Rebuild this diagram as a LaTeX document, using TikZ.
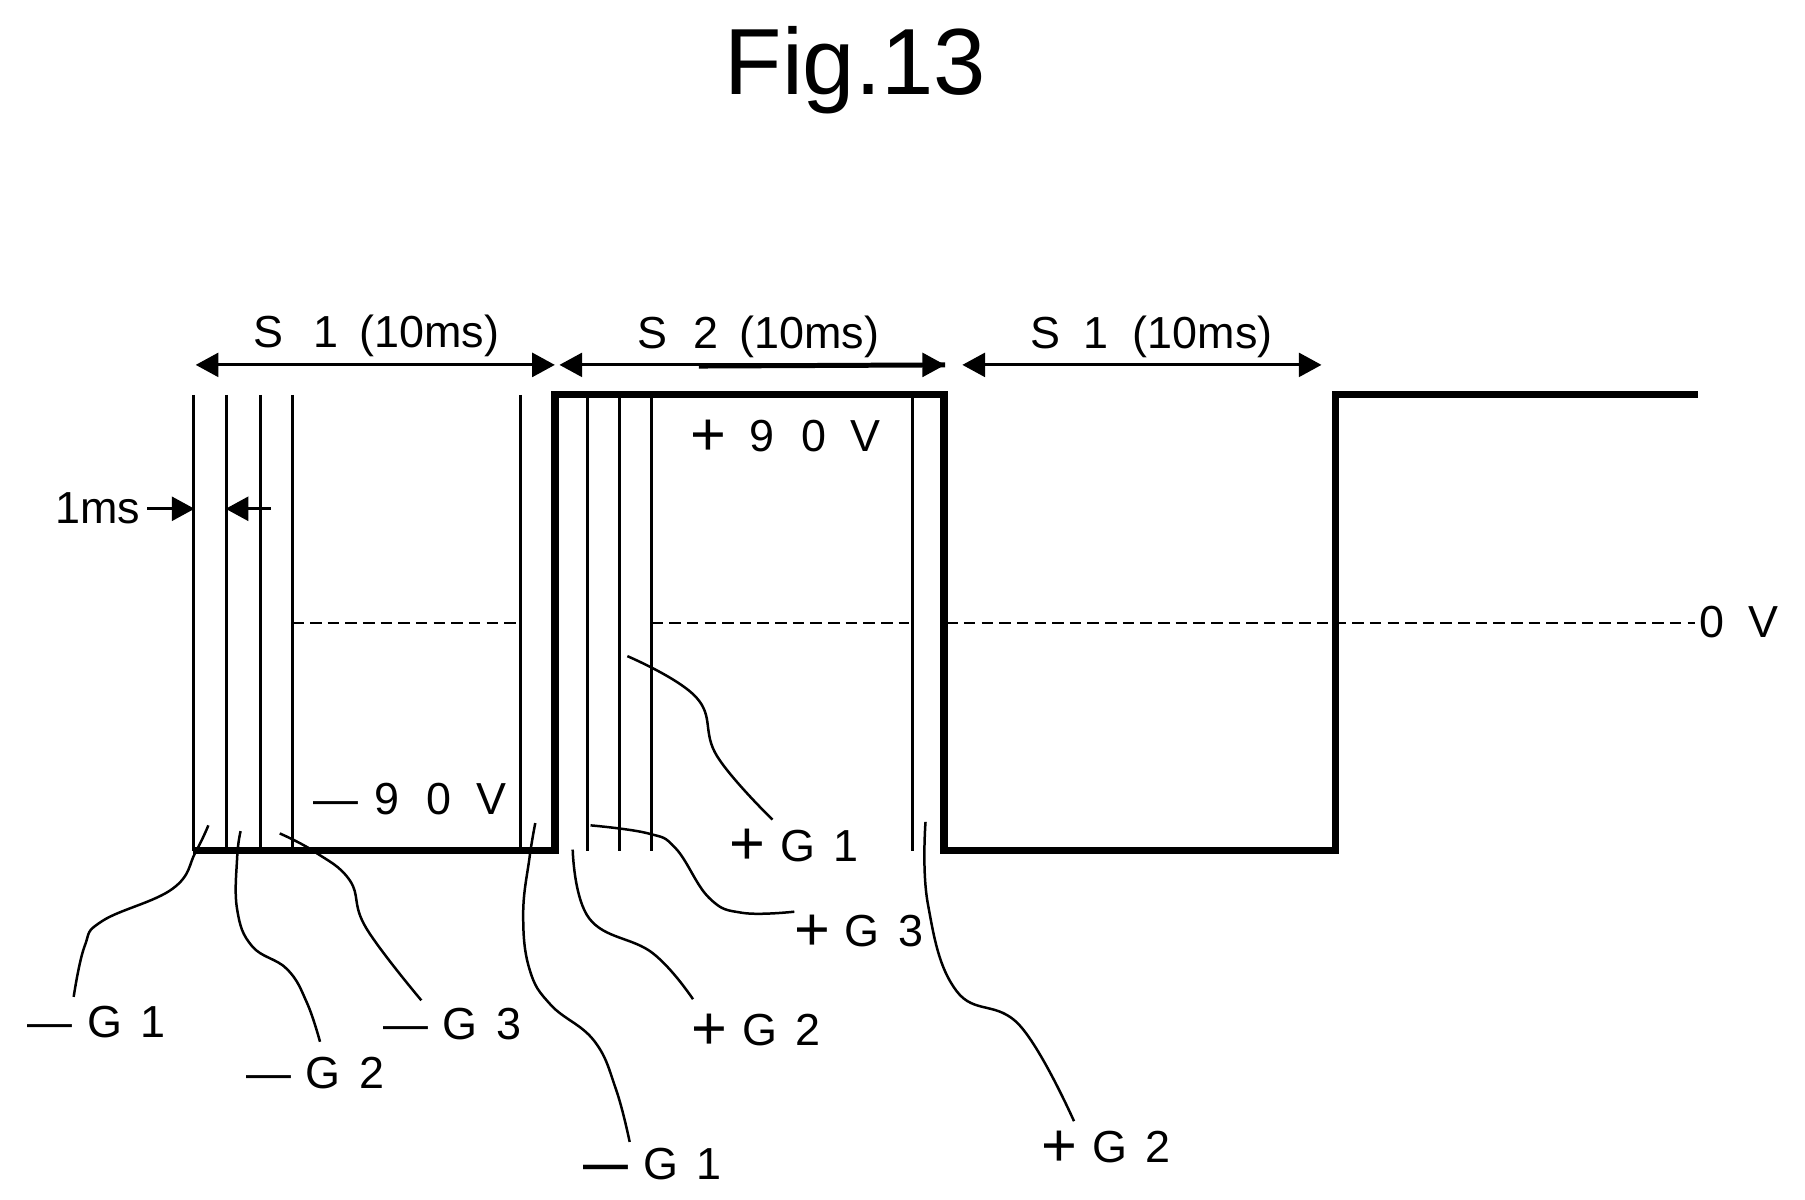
\documentclass[tikz,border=0pt]{standalone}
\usepackage{fontspec}
\setmainfont{Liberation Sans}
\usetikzlibrary{arrows.meta}
\newcommand\Pl{\raisebox{-1pt}{\fontsize{16}{16}\selectfont +}}
\newcommand\Mn{—}
\newcommand\Gl[2]{#1\hspace{3.8pt}G\hspace{4.8pt}#2}
\tikzset{
  x=0.3pt,y=-0.3pt,
  lbl/.style={anchor=base west,inner sep=0pt,outer sep=0pt,font=\fontsize{11.7}{14}\selectfont},
  title/.style={anchor=base,inner sep=0pt,outer sep=0pt,font=\fontsize{24.5}{28}\selectfont},
  signal/.style={line width=1.9pt,line join=miter,line cap=butt},
  gate/.style={line width=0.75pt},
  zero/.style={line width=0.5pt,dash pattern=on 3pt off 1.6pt},
  span/.style={line width=0.8pt,{Triangle[length=5.9pt,width=6.2pt]}-{Triangle[length=5.9pt,width=6.2pt]}},
  tick/.style={line width=0.8pt,-{Triangle[length=5.9pt,width=6.2pt]}},
  leader/.style={line width=0.65pt,line join=round}
}
\begin{document}
\begin{tikzpicture}
\useasboundingbox[fill=white] (0,0) rectangle (1568,1042.4);
% title
\node[title] (fig) at (743,82) {Fig.13};
% signal corners
\coordinate (b0) at (168,739);
\coordinate (b1) at (482,739);
\coordinate (t1) at (482,343);
\coordinate (t2) at (820,343);
\coordinate (b2) at (820,739);
\coordinate (b3) at (1160,739);
\coordinate (t3) at (1160,343);
\coordinate (t4) at (1475,343);
\draw[signal] (b0) -- (b1) -- (t1) -- (t2) -- (b2) -- (b3) -- (t3) -- (t4);
% gate lines
\foreach \x in {168,197,226,254,452,510,538,566,793}
  \draw[gate] (\x,343) -- (\x,739);
% zero level
\coordinate (za) at (254,541);
\coordinate (zb) at (450,541);
\coordinate (zc) at (566,541);
\coordinate (zd) at (790,541);
\coordinate (ze) at (822,541);
\coordinate (zf) at (1472,541);
\draw[zero] (za) -- (zb);
\draw[zero] (zc) -- (zd);
\draw[zero] (ze) -- (zf);
% span arrows
\coordinate (s1a) at (170,317);
\coordinate (s1b) at (482,317);
\coordinate (s2a) at (486,317);
\coordinate (s2b) at (821,317);
\coordinate (s2m) at (607,318);
\coordinate (s3a) at (836,317);
\coordinate (s3b) at (1148,317);
\draw[span] (s1a) -- (s1b);
\draw[span] (s2a) -- (s2b);
\draw[line width=1.3pt] (s2m) -- (s2b);
\draw[span] (s3a) -- (s3b);
% span labels
\node[lbl] (ls1) at (220,302) {S\hspace{8pt}1\hspace{5.4pt}(10ms)};
\node[lbl] (ls2) at (554,303) {S\hspace{6.6pt}2\hspace{5.6pt}(10ms)};
\node[lbl] (ls3) at (895,303) {S\hspace{6pt}1\hspace{6.4pt}(10ms)};
% 1ms
\node[lbl] (lms) at (48,455) {1ms};
\coordinate (ma) at (128,442);
\coordinate (mb) at (169,442);
\coordinate (mc) at (235,442);
\coordinate (md) at (196,442);
\draw[tick] (ma) -- (mb);
\draw[tick] (mc) -- (md);
% voltages
\node[lbl] (lm90) at (272,708) {\Mn\hspace{4.2pt}9\hspace{7.2pt}0\hspace{6.6pt}V};
\node[lbl] (lp90) at (600,392) {\Pl\hspace{6pt}9\hspace{7pt}0\hspace{6.4pt}V};
\node[lbl] (l0v) at (1476,554) {0\hspace{6.4pt}V};
% gate labels
\node[lbl] (g1) at (24,901) {\Gl{\Mn}{1}};
\node[lbl] (g2) at (214,946) {\Gl{\Mn}{2}};
\node[lbl] (g3) at (333,903) {\Gl{\Mn}{3}};
\node[lbl] (g4) at (507,1025) {\Gl{\textbf{—}}{1}};
\node[lbl] (p1) at (634,748) {\Gl{\Pl}{1}};
\node[lbl] (p3) at (690,822) {\Gl{\Pl}{3}};
\node[lbl] (p2) at (601,908) {\Gl{\Pl}{2}};
\node[lbl] (p4) at (905,1010) {\Gl{\Pl}{2}};
% leader ends
\coordinate (e1) at (64,866);
\coordinate (e2) at (278,905);
\coordinate (e3) at (366,869);
\coordinate (e4) at (547,992);
\coordinate (e5) at (671,712);
\coordinate (e6) at (690,792);
\coordinate (e7) at (602,868);
\coordinate (e8) at (933,974);
% leaders
\draw[leader] plot[smooth,tension=0.7] coordinates {(181,717) (170,740) (150,772) (89,800) (73.5,822) (e1)};
\draw[leader] plot[smooth,tension=0.7] coordinates {(209,722) (206,745) (206,790) (219,822) (249.5,842) (266.6,871) (e2)};
\draw[leader] plot[smooth,tension=0.7] coordinates {(243,724) (273.4,740) (304,765) (318,806) (e3)};
\draw[leader] plot[smooth,tension=0.7] coordinates {(465,715) (460,745) (454.5,794) (460,842) (478.5,873) (516,904) (535,946) (e4)};
\draw[leader] plot[smooth,tension=0.7] coordinates {(545,570) (605,606) (623,657) (e5)};
\draw[leader] plot[smooth,tension=0.7] coordinates {(513,717) (563,724) (587,737) (616,780) (645,793) (e6)};
\draw[leader] plot[smooth,tension=0.7] coordinates {(497.5,738) (512,798) (567,828) (e7)};
\draw[leader] plot[smooth,tension=0.7] coordinates {(804,714) (806,785) (831,861) (886,891) (e8)};
\end{tikzpicture}
\end{document}
